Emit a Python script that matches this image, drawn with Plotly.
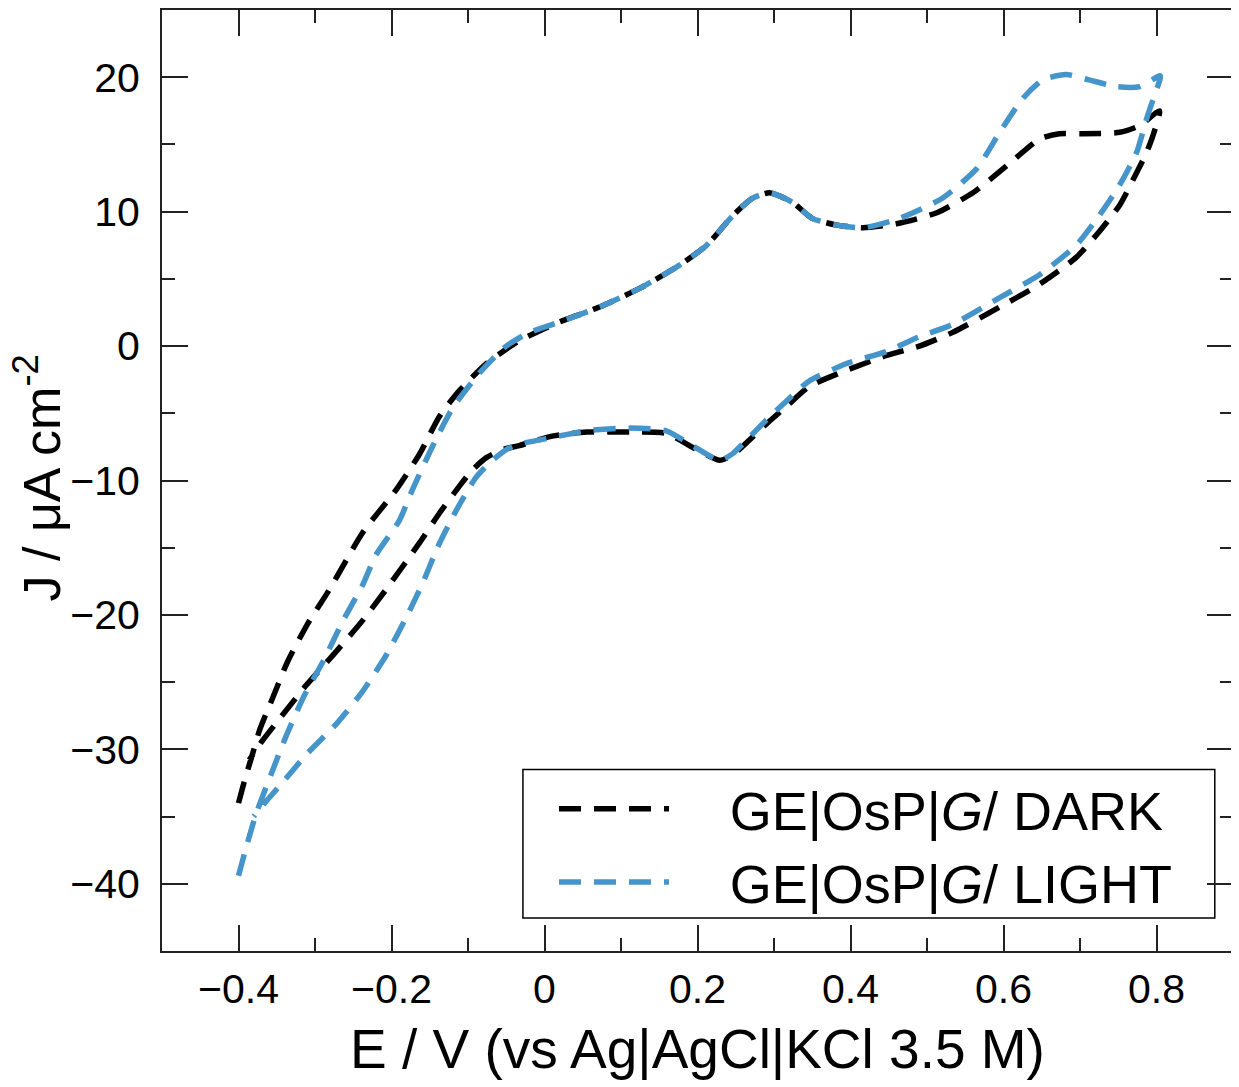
import plotly.graph_objects as go

# GE|OsP|G/ DARK: forward scan then reverse scan (E in V, J in uA cm-2)
dark_e = [-0.400, -0.392, -0.383, -0.372, -0.357, -0.336, -0.310, -0.281, -0.238, -0.194,
          -0.163, -0.137, -0.111, -0.076, -0.033, 0.000, 0.020, 0.076, 0.128, 0.176,
          0.212, 0.246, 0.272, 0.294, 0.324, 0.350, 0.382, 0.416, 0.460, 0.512,
          0.560, 0.604, 0.647, 0.673, 0.703, 0.752, 0.778, 0.804,
          0.795, 0.787, 0.774, 0.752, 0.725, 0.695, 0.647, 0.595, 0.533, 0.490,
          0.447, 0.395, 0.346, 0.316, 0.290, 0.264, 0.246, 0.229, 0.199, 0.159,
          0.111, 0.055, 0.010, -0.033, -0.055, -0.076, -0.094, -0.111, -0.137, -0.163,
          -0.207, -0.239, -0.275, -0.311, -0.346, -0.368, -0.386]
dark_j = [-34.0, -32.3, -30.6, -28.5, -26.4, -23.5, -20.7, -18.1, -13.9, -10.7,
          -8.0, -5.2, -3.3, -1.3, 0.4, 1.3, 1.8, 3.0, 4.4, 6.0,
          7.5, 9.7, 11.0, 11.4, 10.7, 9.5, 9.0, 8.8, 9.1, 9.9,
          11.4, 13.4, 15.4, 15.8, 15.8, 15.9, 16.4, 17.5,
          15.6, 14.4, 12.9, 10.5, 8.5, 6.6, 4.6, 2.9, 1.0, 0.0,
          -0.7, -1.8, -3.0, -4.5, -5.8, -7.2, -8.1, -8.5, -7.7, -6.5,
          -6.4, -6.4, -6.7, -7.4, -7.7, -8.3, -9.2, -10.4, -12.4, -14.6,
          -18.1, -20.5, -22.9, -25.2, -27.7, -29.3, -30.8]

# GE|OsP|G/ LIGHT
light_e = [-0.400, -0.391, -0.377, -0.357, -0.337, -0.314, -0.288, -0.264, -0.238, -0.220,
           -0.190, -0.172, -0.145, -0.120, -0.085, -0.050, -0.020, 0.020, 0.076, 0.128,
           0.176, 0.212, 0.246, 0.272, 0.294, 0.324, 0.350, 0.382, 0.416, 0.464,
           0.520, 0.565, 0.595, 0.625, 0.651, 0.682, 0.712, 0.748, 0.778, 0.805,
           0.797, 0.787, 0.774, 0.752, 0.725, 0.695, 0.647, 0.595, 0.533, 0.490,
           0.447, 0.395, 0.346, 0.316, 0.290, 0.264, 0.246, 0.229, 0.199, 0.159,
           0.111, 0.055, 0.010, -0.033, -0.050, -0.070, -0.090, -0.118, -0.140, -0.159,
           -0.180, -0.207, -0.238, -0.272, -0.310, -0.346, -0.366, -0.380]
light_j = [-39.4, -37.5, -34.8, -31.8, -28.9, -26.0, -23.3, -20.5, -17.8, -15.5,
           -13.0, -10.6, -7.3, -4.6, -2.0, 0.0, 1.0, 1.8, 3.0, 4.4,
           6.0, 7.5, 9.7, 11.0, 11.4, 10.7, 9.5, 9.0, 8.8, 9.5,
           11.0, 13.2, 15.9, 18.4, 19.8, 20.2, 19.8, 19.3, 19.3, 20.1,
           18.6, 16.9, 14.4, 12.0, 9.7, 7.5, 5.3, 3.6, 1.6, 0.7,
           -0.4, -1.3, -2.6, -4.1, -5.5, -7.0, -8.0, -8.5, -7.6, -6.3,
           -6.1, -6.3, -6.8, -7.3, -7.7, -8.6, -9.8, -12.5, -15.0, -17.6,
           -20.1, -23.0, -25.7, -28.1, -30.3, -32.7, -34.0, -35.0]

font_name = "Liberation Sans, Arial, sans-serif"
gap = "\u00a0" * 3 + "\u2009"  # extra room between legend sample and label

fig = go.Figure()
fig.add_trace(go.Scatter(x=dark_e, y=dark_j, mode="lines", name=gap + "GE|OsP|<i>G</i>/ DARK",
                         line=dict(color="black", width=5.5, dash="22px,13px",
                                   shape="spline", smoothing=0.6)))
fig.add_trace(go.Scatter(x=light_e, y=light_j, mode="lines", name=gap + "GE|OsP|<i>G</i>/ LIGHT",
                         line=dict(color="#4595cb", width=5.5, dash="22px,13px",
                                   shape="spline", smoothing=0.6)))

axis_style = dict(showgrid=False, zeroline=False, showline=True, linecolor="#222",
                  linewidth=2, mirror="ticks", ticks="inside", ticklen=26, tickwidth=2,
                  tickcolor="#222", tickfont=dict(size=41, color="black"), automargin=False)

fig.update_xaxes(range=[-0.5, 0.9], tick0=-0.4, dtick=0.2, ticklabelstandoff=1,
                 minor=dict(ticks="inside", ticklen=13, tickwidth=2, tickcolor="#222", dtick=0.1),
                 title=dict(text="E / V (vs Ag|AgCl|KCl 3.5 M)", font=dict(size=55, color="black"),
                            standoff=18),
                 **axis_style)
fig.update_yaxes(range=[-45, 25], tick0=-40, dtick=10, ticklabelstandoff=12,
                 minor=dict(ticks="inside", ticklen=13, tickwidth=2, tickcolor="#222", dtick=5),
                 **axis_style)

# y axis title placed by hand so it clears the tick labels
fig.add_annotation(text="J / μA cm<sup>-2</sup>", xref="paper", yref="paper",
                   x=-0.116, y=0.503, xanchor="center", yanchor="middle", textangle=-90,
                   showarrow=False, font=dict(size=52, color="black"))

# legend frame
fig.add_shape(type="rect", xref="paper", yref="paper", x0=0.337, x1=0.983, y0=0.035, y1=0.193,
              line=dict(color="black", width=1.5), fillcolor="white", layer="below")

# page body has an 8px margin, so the figure is a bit smaller than the window
fig.update_layout(
    width=1231, height=1079,
    margin=dict(l=154, r=6, t=2, b=136),
    plot_bgcolor="white", paper_bgcolor="white",
    font=dict(family=font_name, color="black"),
    legend=dict(x=0.366, y=0.112, xanchor="left", yanchor="middle",
                borderwidth=0, bgcolor="rgba(0,0,0,0)",
                font=dict(size=54, color="black"), itemwidth=110,
                tracegroupgap=0),
)

fig.write_html("out.html")
